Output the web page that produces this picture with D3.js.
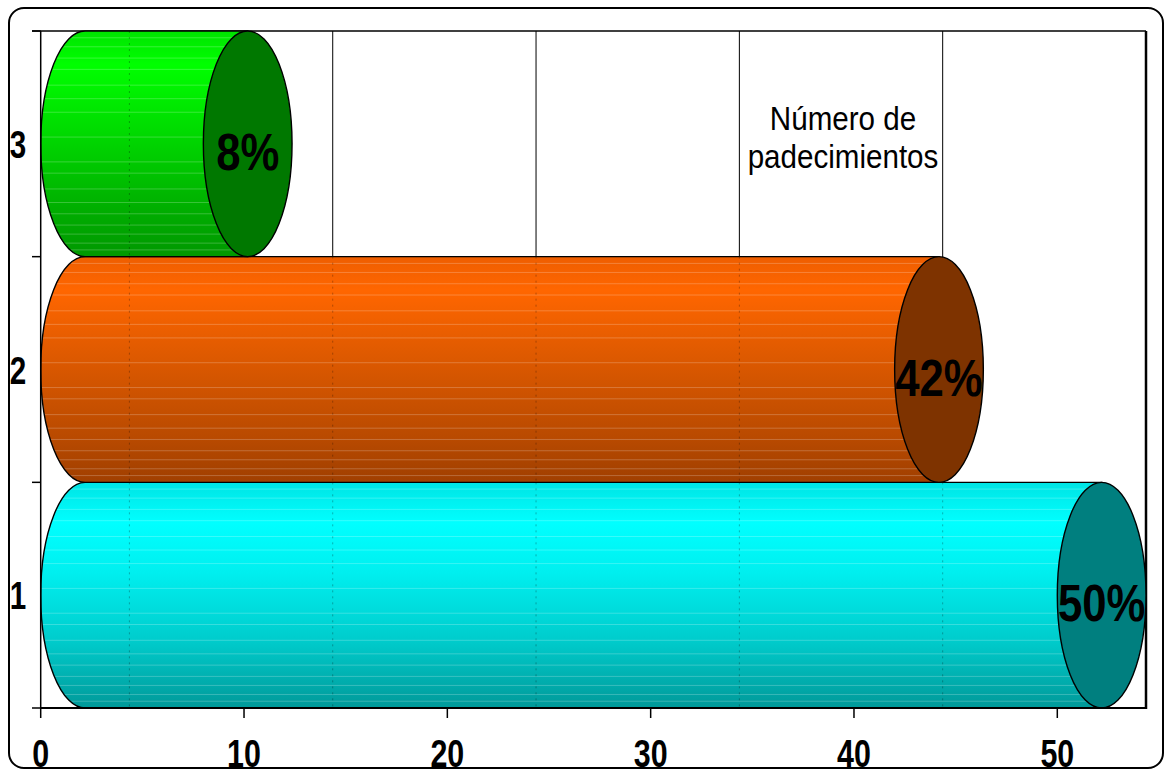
<!DOCTYPE html>
<html>
<head>
<meta charset="utf-8">
<script src="https://cdn.jsdelivr.net/npm/d3@7"></script>
<style>
  body { margin: 0; background: #fff; }
  text { font-family: "Liberation Sans", Arial, sans-serif; }
</style>
</head>
<body>
<svg id="chart" width="1169" height="769"></svg>
<script>
// ---- data ----
const categories = ["1", "2", "3"];
const values = [50, 42, 8];
const valueLabels = ["50%", "42%", "8%"];
const xTicks = [0, 10, 20, 30, 40, 50];
const titleLines = ["Número de", "padecimientos"];

// ---- styles ----
const bodyStops = [
  [[0, "#00e4e4"], [0.18, "#00ffff"], [0.4, "#00efef"], [0.7, "#00cccc"], [1, "#009999"]],
  [[0, "#ee5e00"], [0.15, "#ff6600"], [0.45, "#dd5900"], [0.8, "#b94a00"], [1, "#a03f00"]],
  [[0, "#00e400"], [0.15, "#00ff00"], [0.45, "#00da00"], [0.8, "#00ad00"], [1, "#009800"]]
];
const capColors = ["#007f7f", "#7e3300", "#007800"];
const stripeFractions = [0.03, 0.07, 0.12, 0.17, 0.24, 0.3, 0.36, 0.47, 0.58, 0.63, 0.7, 0.76, 0.81, 0.86, 0.9, 0.94, 0.97];

const svg = d3.select("#chart");
const W = 1169, H = 769;
const plot = { left: 40.7, top: 31, bottom: 708, right: 1146 };

const x = d3.scaleLinear().domain([0, 50]).range([plot.left, 1057.3]);
const depth = plot.right - x(50);          // horizontal depth of the 3-D box
const y = d3.scaleBand().domain(categories).range([plot.bottom, plot.top]).padding(0);

// outer rounded frame
svg.append("rect")
  .attr("x", 9).attr("y", 8).attr("width", 1154).attr("height", 760)
  .attr("rx", 15).attr("fill", "none").attr("stroke", "#000").attr("stroke-width", 2);

const defs = svg.append("defs");
categories.forEach((c, i) => {
  const g = defs.append("linearGradient").attr("id", "grad" + i)
    .attr("x1", 0).attr("y1", 0).attr("x2", 0).attr("y2", 1);
  bodyStops[i].forEach(s => g.append("stop").attr("offset", s[0]).attr("stop-color", s[1]));
});

// back-wall gridlines
svg.append("g").selectAll("line").data(xTicks.slice(0, -1)).join("line")
  .attr("x1", d => x(d) + depth).attr("x2", d => x(d) + depth)
  .attr("y1", plot.top).attr("y2", plot.bottom)
  .attr("stroke", "#000").attr("stroke-width", 1);

// top and right border of the back wall
svg.append("line").attr("x1", 32).attr("x2", plot.right).attr("y1", plot.top).attr("y2", plot.top)
  .attr("stroke", "#000").attr("stroke-width", 1.5);
svg.append("line").attr("x1", plot.right).attr("x2", plot.right).attr("y1", plot.top).attr("y2", plot.bottom + 1)
  .attr("stroke", "#000").attr("stroke-width", 2.5);

// cylinders
const rx = depth / 2;
const bars = svg.append("g");
categories.forEach((c, i) => {
  const top = y(c), bot = y(c) + y.bandwidth();
  const ry = y.bandwidth() / 2, cy = top + ry;
  const cxL = x(0) + rx, cxR = x(values[i]) + rx;
  const body = `M${cxL},${top} L${cxR},${top} L${cxR},${bot} L${cxL},${bot} A${rx},${ry} 0 0 1 ${cxL},${top} Z`;

  defs.append("clipPath").attr("id", "clip" + i).append("path").attr("d", body);

  bars.append("path").attr("d", body).attr("fill", `url(#grad${i})`);

  // light banding across the body
  bars.append("g").attr("clip-path", `url(#clip${i})`)
    .selectAll("line").data(stripeFractions).join("line")
    .attr("x1", x(0)).attr("x2", cxR)
    .attr("y1", f => top + f * y.bandwidth()).attr("y2", f => top + f * y.bandwidth())
    .attr("stroke", "#fff").attr("stroke-opacity", 0.22).attr("stroke-width", 1);

  // gridlines faintly visible through the body
  bars.append("g").attr("clip-path", `url(#clip${i})`)
    .selectAll("line").data(xTicks.slice(0, -1)).join("line")
    .attr("x1", d => x(d) + depth).attr("x2", d => x(d) + depth)
    .attr("y1", top).attr("y2", bot)
    .attr("stroke", "#000").attr("stroke-opacity", 0.28).attr("stroke-dasharray", "2,4");

  bars.append("path").attr("d", body).attr("fill", "none")
    .attr("stroke", "#000").attr("stroke-width", 1.4);

  bars.append("ellipse")
    .attr("cx", cxR).attr("cy", cy).attr("rx", rx).attr("ry", ry)
    .attr("fill", capColors[i]).attr("stroke", "#000").attr("stroke-width", 1.4);

  bars.append("text")
    .attr("transform", `translate(${cxR},${cy + 26}) scale(0.84,1)`)
    .attr("text-anchor", "middle")
    .attr("font-size", 52).attr("font-weight", "bold").attr("fill", "#000")
    .text(valueLabels[i]);
});

// axes
svg.append("line").attr("x1", plot.left).attr("x2", plot.right).attr("y1", plot.bottom).attr("y2", plot.bottom)
  .attr("stroke", "#000").attr("stroke-width", 2);
svg.append("line").attr("x1", plot.left).attr("x2", plot.left).attr("y1", plot.top).attr("y2", plot.bottom)
  .attr("stroke", "#000").attr("stroke-width", 1.5);

svg.append("g").selectAll("line").data(xTicks).join("line")
  .attr("x1", d => x(d)).attr("x2", d => x(d))
  .attr("y1", plot.bottom).attr("y2", plot.bottom + 10)
  .attr("stroke", "#000").attr("stroke-width", 1.5);

svg.append("g").selectAll("text").data(xTicks).join("text")
  .attr("transform", d => `translate(${x(d)},767) scale(0.78,1)`)
  .attr("text-anchor", "middle").attr("font-size", 39).attr("font-weight", "bold")
  .text(d => d);

const yEdges = categories.map(c => y(c)).concat([plot.bottom]);
svg.append("g").selectAll("line").data(yEdges).join("line")
  .attr("x1", 32).attr("x2", plot.left)
  .attr("y1", d => d).attr("y2", d => d)
  .attr("stroke", "#000").attr("stroke-width", 1.5);

svg.append("g").selectAll("text").data(categories).join("text")
  .attr("transform", c => `translate(18,${y(c) + y.bandwidth() / 2 + 14}) scale(0.76,1)`)
  .attr("text-anchor", "middle").attr("font-size", 39).attr("font-weight", "bold")
  .text(c => c);

// series name
svg.append("g").selectAll("text").data(titleLines).join("text")
  .attr("transform", (d, i) => `translate(843,${130 + i * 38}) scale(0.87,1)`)
  .attr("text-anchor", "middle").attr("font-size", 34).attr("fill", "#000")
  .text(d => d);
</script>
</body>
</html>
